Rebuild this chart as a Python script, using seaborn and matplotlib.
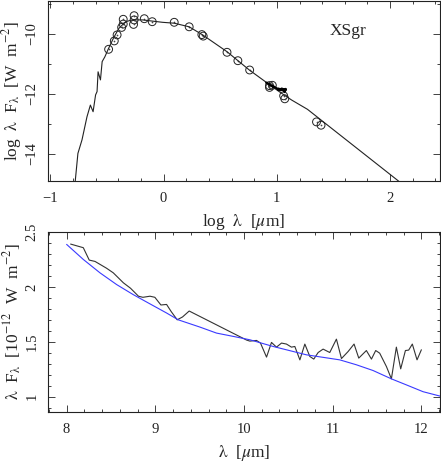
import numpy as np
import pandas as pd
import matplotlib
matplotlib.use("Agg")
import matplotlib.pyplot as plt
from matplotlib.ticker import MultipleLocator
import seaborn as sns

# ---- data ----
# top panel: photometry (log lambda [um], log lambda F_lambda [W m^-2])
phot_logl = [-0.485, -0.435, -0.41, -0.37, -0.356, -0.356, -0.265, -0.26, -0.26,
             -0.17, -0.10, 0.094, 0.226, 0.338, 0.35, 0.56, 0.656, 0.76,
             0.935, 0.96, 0.935, 1.06, 1.07, 1.35, 1.39]
phot_logf = [-10.51, -10.23, -10.03, -9.78, -9.67, -9.51, -9.68, -9.53, -9.39,
             -9.49, -9.59, -9.61, -9.76, -10.02, -10.07, -10.61, -10.89, -11.20,
             -11.72, -11.71, -11.78, -12.06, -12.16, -12.93, -13.04]

# top panel: model SED
model_logl = [-0.78, -0.756, -0.72, -0.676, -0.646, -0.622, -0.60, -0.587, -0.578,
              -0.557, -0.542, -0.518, -0.489, -0.44, -0.394, -0.335, -0.276, -0.187,
              -0.098, -0.01, 0.094, 0.226, 0.345, 0.56, 0.757, 0.95, 1.02, 1.13,
              1.27, 2.09]
model_logf = [-14.92, -13.98, -13.53, -12.76, -12.37, -12.59, -12.03, -11.92, -11.26,
              -11.53, -10.92, -10.76, -10.51, -10.12, -9.81, -9.59, -9.53, -9.53,
              -9.57, -9.61, -9.64, -9.76, -10.03, -10.59, -11.20, -11.73, -11.92, -12.20,
              -12.51, -14.95]

# bottom panel: spectrum (lambda [um], lambda F_lambda [1e-12 W m^-2])
spec_l = [8.045, 8.188, 8.255, 8.32, 8.45, 8.526, 8.64, 8.72, 8.81, 8.86, 8.94, 8.995,
          9.063, 9.127, 9.18, 9.247, 9.307, 9.382, 10.03, 10.066, 10.141, 10.186, 10.254,
          10.31, 10.366, 10.423, 10.479, 10.535, 10.573, 10.63, 10.686, 10.742, 10.787,
          10.836, 10.892, 10.967, 11.042, 11.099, 11.174, 11.241, 11.294, 11.38, 11.437,
          11.485, 11.53, 11.606, 11.662, 11.718, 11.767, 11.82, 11.857, 11.898, 11.951, 12.0]
spec_f = [2.39, 2.357, 2.244, 2.232, 2.17, 2.128, 2.037, 1.988, 1.915, 1.905, 1.915, 1.905,
          1.835, 1.84, 1.774, 1.70, 1.726, 1.78, 1.515, 1.506, 1.512, 1.488, 1.36,
          1.494, 1.451, 1.488, 1.479, 1.451, 1.457, 1.335, 1.479, 1.366, 1.342,
          1.402, 1.433, 1.402, 1.524, 1.347, 1.411, 1.479, 1.351, 1.42, 1.342,
          1.42, 1.396, 1.274, 1.162, 1.451, 1.253, 1.42, 1.424, 1.479, 1.335, 1.427]

# bottom panel: model
mod_l = [8.0, 8.188, 8.376, 8.564, 8.75, 8.94, 9.127, 9.258, 9.502, 9.69, 9.878, 10.066,
         10.329, 10.704, 11.08, 11.268, 11.455, 11.662, 11.831, 12.019, 12.21]
mod_f = [2.387, 2.25, 2.128, 2.021, 1.93, 1.845, 1.762, 1.70, 1.634, 1.579, 1.549, 1.518,
         1.457, 1.381, 1.335, 1.29, 1.238, 1.162, 1.107, 1.045, 1.005]

# ---- style ----
sns.set_style("ticks")
plt.rcParams["font.family"] = ["Liberation Serif", "DejaVu Serif"]
plt.rcParams["mathtext.fontset"] = "stix"
plt.rcParams["axes.linewidth"] = 0.8
plt.rcParams["axes.edgecolor"] = "#222222"

fig = plt.figure(figsize=(4.41, 4.63), dpi=100)
ax1 = fig.add_axes([48 / 441, 1 - 181 / 463, 392 / 441, 180 / 463])
ax2 = fig.add_axes([48 / 441, 1 - 412 / 463, 392 / 441, 180 / 463])

TFS = 10.5
LFS = 12.5

def style_ticks(ax):
    ax.tick_params(which="both", direction="in", top=True, right=True,
                   labelsize=TFS, colors="#222222", width=0.6)
    ax.tick_params(which="major", length=5)
    ax.tick_params(axis="x", which="major", pad=8)
    ax.tick_params(axis="y", which="major", pad=7)
    ax.tick_params(which="minor", length=2.5)
    for lab in ax.get_yticklabels():
        lab.set_rotation(90)
        lab.set_va("center")

LAM = r"$\mathrm{\lambda}$"
LAMSUB = r"$_{\mathrm{\lambda}}$"

# ---- top panel ----
df_mod = pd.DataFrame({"x": model_logl, "y": model_logf})
sns.lineplot(data=df_mod, x="x", y="y", ax=ax1, color="#222222", lw=0.8,
             sort=False, estimator=None)
spec_df = pd.DataFrame({"x": np.log10(spec_l), "y": np.log10(np.array(spec_f) * 1e-12)})
sns.lineplot(data=spec_df, x="x", y="y", ax=ax1, color="black", lw=1.6,
             sort=False, estimator=None)
df_ph = pd.DataFrame({"x": phot_logl, "y": phot_logf})
sns.scatterplot(data=df_ph, x="x", y="y", ax=ax1, marker="o", s=32,
                facecolor="none", edgecolor="#222222", linewidth=0.7)
sns.scatterplot(data=df_ph, x="x", y="y", ax=ax1, marker="o", s=1.5,
                color="#444444", linewidth=0)
ax1.set_xlim(-1.02, 2.44)
ax1.set_ylim(-14.9, -8.9)
ax1.xaxis.set_major_locator(MultipleLocator(1))
ax1.xaxis.set_minor_locator(MultipleLocator(0.2))
ax1.yaxis.set_major_locator(MultipleLocator(2))
ax1.yaxis.set_minor_locator(MultipleLocator(1))
ax1.set_xticks([-1, 0, 1, 2])
ax1.set_xticklabels(["\u22121", "0", "1", "2"])
ax1.set_yticks([-14, -12, -10])
ax1.set_yticklabels(["\u221214", "\u221212", "\u221210"])
ax1.set_xlabel("log  " + LAM + "  [$\\mu$m]", fontsize=LFS, labelpad=5)
ax1.set_ylabel("log  " + LAM + "  F" + LAMSUB + "  [W  m$^{-2}$]", fontsize=LFS, labelpad=1)
ax1.text(0.765, 0.833, "XSgr", transform=ax1.transAxes, fontsize=LFS,
         ha="center", va="center")
style_ticks(ax1)

# ---- bottom panel ----
df_s = pd.DataFrame({"x": spec_l, "y": spec_f})
sns.lineplot(data=df_s, x="x", y="y", ax=ax2, color="#333333", lw=0.8,
             sort=False, estimator=None)
df_m = pd.DataFrame({"x": mod_l, "y": mod_f})
sns.lineplot(data=df_m, x="x", y="y", ax=ax2, color="#3a3aff", lw=0.8,
             sort=False, estimator=None)
ax2.set_xlim(7.79, 12.21)
ax2.set_ylim(0.86, 2.5)
ax2.xaxis.set_major_locator(MultipleLocator(1))
ax2.xaxis.set_minor_locator(MultipleLocator(0.2))
ax2.yaxis.set_major_locator(MultipleLocator(0.5))
ax2.yaxis.set_minor_locator(MultipleLocator(0.1))
ax2.set_yticks([1, 1.5, 2, 2.5])
ax2.set_yticklabels(["1", "1.5", "2", "2.5"])
ax2.set_xlabel(LAM + "  [$\\mu$m]", fontsize=LFS, labelpad=5)
ax2.set_ylabel(LAM + "  F" + LAMSUB + "  [10$^{-12}$  W  m$^{-2}$]", fontsize=LFS, labelpad=1)
style_ticks(ax2)

fig.savefig("out.png", dpi=100)
